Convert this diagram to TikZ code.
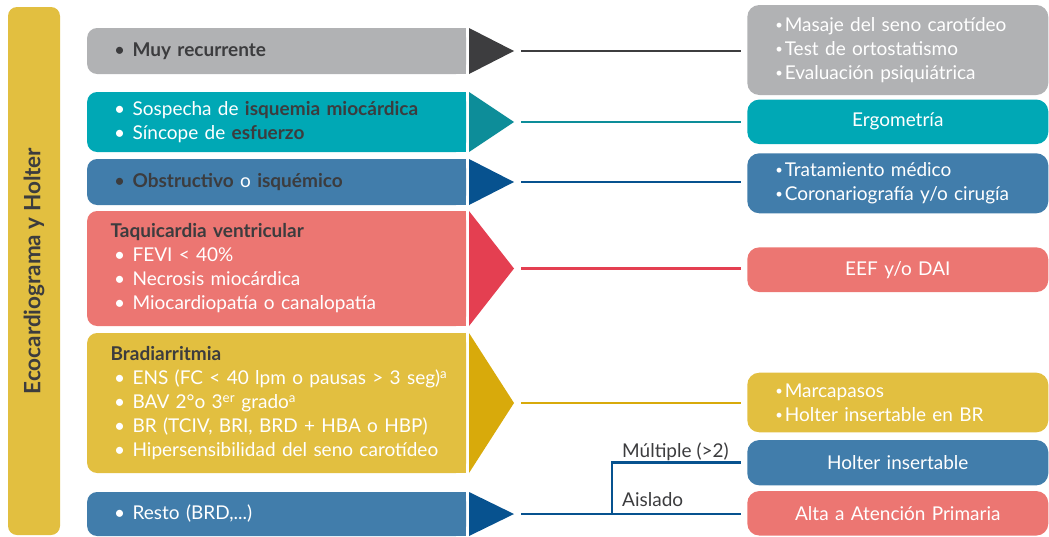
\documentclass[tikz,border=0pt]{standalone}
\usepackage{fontspec}
\setmainfont{Lato}

\definecolor{cgray}{HTML}{B1B2B4}
\definecolor{cgrayD}{HTML}{3D3D3F}
\definecolor{cteal}{HTML}{00A8B5}
\definecolor{ctealD}{HTML}{0D8D99}
\definecolor{cblue}{HTML}{417DAB}
\definecolor{cblueD}{HTML}{07528F}
\definecolor{csal}{HTML}{EC7672}
\definecolor{csalD}{HTML}{E43F51}
\definecolor{cyel}{HTML}{E2BF40}
\definecolor{cyelD}{HTML}{D8AA0B}
\definecolor{ink}{HTML}{3C3C3E}

% bullet lines and headings (kept on one line each)
\newcommand\lb[1]{\mbox{\makebox[22pt][l]{\hspace{3.5pt}\textbullet}#1}}
\newcommand\rb[1]{\mbox{\makebox[9.5pt][l]{\fontsize{13}{13}\selectfont\raisebox{1.6pt}{\textbullet}}#1}}
\newcommand\hd[1]{{\bfseries\color{ink}#1}}

\tikzset{
  txt/.style={font=\fontsize{19}{24}\selectfont},
  lbox/.style={txt, text=white, rounded corners=10pt, minimum width=379pt,
    text width=332pt, inner xsep=23.5pt, inner ysep=0pt, align=left},
  rbox/.style={txt, text=white, fill=#1, rounded corners=12pt, minimum width=301pt,
    text width=245pt, inner xsep=28pt, inner ysep=0pt, align=left},
  rboxc/.style={rbox=#1, align=center},
  conn/.style={draw=#1, line width=2.6pt, shorten <=7pt, shorten >=6pt},
  lab/.style={txt, text=ink, inner sep=0pt},
}

% left row: square right half, rounded box with text, arrow triangle, tip coordinate
\newcommand\leftrow[6]{%
  \fill[#2] (300,#4) rectangle (466,#5);
  \node[lbox, fill=#2, minimum height={(#5-#4)*1pt}] (#1) at (276.6,{(#4+#5)/2}) {#6};
  \fill[#3] (469,#4) -- (514,{(#4+#5)/2}) -- (469,#5) -- cycle;
  \coordinate (#1tip) at (514,{(#4+#5)/2});
}

\begin{document}
\begin{tikzpicture}[x=1pt, y=-1pt]
\useasboundingbox (0,0) rectangle (1049,536);

% vertical title bar
\node[fill=cyel, rounded corners=9pt, rotate=90, minimum width=528pt, minimum height=52pt,
  inner sep=0pt, text=ink, font=\fontsize{22.5}{24}\selectfont\bfseries] (bar) at (34,271)
  {Ecocardiograma y Holter};

% left column
\leftrow{l1}{cgray}{cgrayD}{28}{74}{{\color{ink}\lb{\bfseries Muy recurrente}}}
\leftrow{l2}{cteal}{ctealD}{92}{152}{\lb{Sospecha de \hd{isquemia miocárdica}}\\ \lb{Síncope de \hd{esfuerzo}}}
\leftrow{l3}{cblue}{cblueD}{159}{205}{{\color{ink}\lb{\hd{Obstructivo} {\color{white}o} \hd{isquémico}}}}
\leftrow{l4}{csal}{csalD}{211}{326}{\hd{Taquicardia ventricular}\\ \lb{FEVI < 40\%}\\ \lb{Necrosis miocárdica}\\ \lb{Miocardiopatía o canalopatía}}
\leftrow{l5}{cyel}{cyelD}{333}{473}{\hd{Bradiarritmia}\\ \lb{ENS (FC < 40 lpm o pausas > 3 seg)\textsuperscript{a}}\\ \lb{BAV 2°o 3\textsuperscript{er} grado\textsuperscript{a}}\\ \lb{BR (TCIV, BRI, BRD + HBA o HBP)}\\ \lb{Hipersensibilidad del seno carotídeo}}
\leftrow{l6}{cblue}{cblueD}{492}{536}{\lb{Resto (BRD,...)}}

% right column
\node[rbox=cgray, minimum height=90pt] (r1) at (897.8,50)
  {\rb{Masaje del seno carotídeo}\\ \rb{Test de ortostatismo}\\ \rb{Evaluación psiquiátrica}};
\node[rboxc=cteal, minimum height=44.5pt] (r2) at (897.8,121.8) {Ergometría};
\node[rbox=cblue, minimum height=60pt] (r3) at (897.8,183.3)
  {\rb{Tratamiento médico}\\ \rb{Coronariografía y/o cirugía}};
\node[rboxc=csal, minimum height=44.7pt] (r4) at (897.8,269.7) {EEF y/o DAI};
\node[rbox=cyel, minimum height=59.6pt] (r5) at (897.8,402.5)
  {\rb{Marcapasos}\\ \rb{Holter insertable en BR}};
\node[rboxc=cblue, minimum height=45.3pt] (r6) at (897.8,462.7) {Holter insertable};
\node[rboxc=csal, minimum height=44.5pt] (r7) at (897.8,513.3) {Alta a Atención Primaria};

% connectors
\draw[conn=cgrayD] (l1tip) -- (l1tip -| r1.west);
\draw[conn=ctealD] (l2tip) -- (l2tip -| r2.west);
\draw[conn=cblueD] (l3tip) -- (l3tip -| r3.west);
\draw[conn=csalD] (l4tip) -- (l4tip -| r4.west);
\draw[conn=cyelD] (l5tip) -- (l5tip -| r5.west);
\draw[conn=cblueD] (l6tip) -- (l6tip -| r7.west);
\coordinate (br) at (612,513.7);
\draw[conn=cblueD, shorten <=0pt] (br) |- (r6.west);

% branch labels
\node[lab, anchor=base west] (mlt) at (622,457.3) {Múltiple (>2)};
\node[lab, anchor=base west] (ais) at (622,506.7) {Aislado};
\end{tikzpicture}
\end{document}
